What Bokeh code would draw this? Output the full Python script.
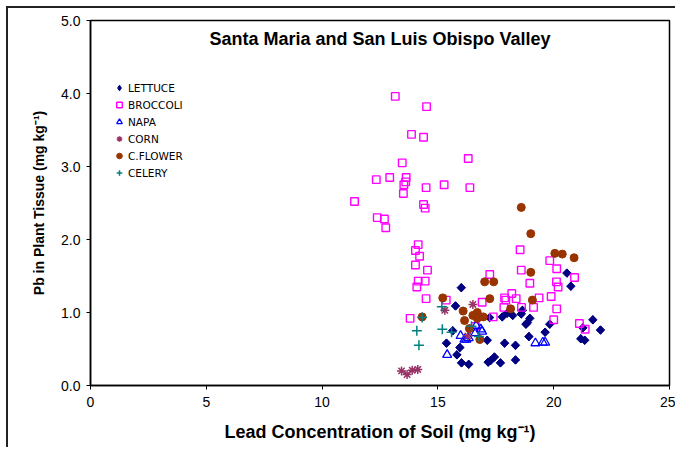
import math
from bokeh.plotting import figure
from bokeh.models import Legend, LegendItem, Label, FixedTicker, PrintfTickFormatter, Range1d
from bokeh.embed import file_html
from bokeh.resources import INLINE

# ---- data ----
lettuce_x = [16.01, 15.76, 15.64, 15.37, 15.95, 15.82, 16.02, 16.33, 17.13, 17.17, 17.27, 17.44, 17.70, 17.88,
             18.35, 18.35, 17.78, 17.99, 18.23, 18.60, 18.65, 17.23, 20.57, 20.74, 18.97, 18.86, 18.80, 19.83,
             19.63, 18.93, 21.69, 22.02, 21.26, 21.17, 21.34]
lettuce_y = [1.34, 1.09, 0.75, 0.58, 0.52, 0.42, 0.31, 0.29, 0.62, 0.32, 0.34, 0.39, 0.31, 0.58,
             0.55, 0.35, 0.94, 0.99, 0.96, 0.98, 1.03, 0.93, 1.54, 1.36, 0.92, 0.86, 0.84, 0.84,
             0.73, 0.67, 0.90, 0.76, 0.79, 0.64, 0.62]

broccoli_x = [13.16, 14.51, 13.86, 14.38, 13.46, 16.31, 12.34, 12.92, 13.63, 13.61, 13.53, 14.49, 15.27, 16.38,
              13.51, 11.40, 14.38, 14.45, 12.38, 12.69, 12.75, 14.15, 14.03, 14.21, 14.03, 14.55, 14.15, 14.45,
              14.09, 14.49, 13.80, 15.36, 17.24, 16.91, 17.39, 16.62, 18.55, 18.60, 18.97, 19.83, 20.13, 20.12,
              20.19, 20.90, 18.19, 17.88, 17.93, 18.38, 17.85, 19.37, 19.89, 18.61, 19.13, 20.13, 20.00, 21.11,
              21.36]
broccoli_y = [3.96, 3.82, 3.44, 3.40, 3.05, 3.11, 2.82, 2.85, 2.85, 2.79, 2.75, 2.71, 2.75, 2.71,
              2.63, 2.52, 2.48, 2.43, 2.30, 2.28, 2.16, 1.93, 1.85, 1.77, 1.65, 1.58, 1.43, 1.43,
              1.35, 1.19, 0.92, 1.17, 1.52, 1.14, 0.94, 0.81, 1.86, 1.58, 1.40, 1.71, 1.60, 1.42,
              1.35, 1.48, 1.26, 1.20, 1.17, 1.19, 1.07, 1.20, 1.22, 1.07, 1.07, 1.05, 0.90, 0.85,
              0.77]

napa_x = [15.40, 15.98, 16.15, 16.23, 16.33, 16.62, 16.85, 16.91, 16.65, 19.21, 19.53, 19.63]
napa_y = [0.42, 0.68, 0.63, 0.63, 0.65, 0.72, 0.77, 0.74, 0.82, 0.58, 0.59, 0.59]

corn_x = [13.43, 13.67, 13.89, 14.13, 15.30, 16.51, 16.29]
corn_y = [0.20, 0.15, 0.21, 0.22, 1.03, 1.11, 0.68]

cflower_x = [15.21, 14.32, 17.02, 17.41, 17.24, 16.09, 16.70, 16.51, 16.15, 16.70, 16.96, 16.36, 16.81,
             18.14, 18.60, 19.01, 20.05, 20.37, 20.88, 19.01, 19.08]
cflower_y = [1.20, 0.94, 1.42, 1.42, 1.19, 1.02, 1.00, 0.96, 0.89, 0.92, 0.94, 0.78, 0.63,
             1.05, 2.44, 2.08, 1.81, 1.80, 1.75, 1.55, 1.17]

celery_x = [15.17, 14.32, 14.09, 15.19, 15.59, 14.18, 16.45, 16.77]
celery_y = [1.08, 0.93, 0.75, 0.77, 0.73, 0.55, 0.81, 0.67]

x_ticks = [0, 5, 10, 15, 20, 25]
y_ticks = [0, 1, 2, 3, 4, 5]

title_text = "Santa Maria and San Luis Obispo Valley"
x_label = "Lead Concentration of Soil (mg kg\u207b\u00b9)"
y_label = "Pb in Plant Tissue (mg kg\u207b\u00b9)"

FONT = "Liberation Sans"

p = figure(width=669, height=441, x_range=Range1d(0, 25), y_range=Range1d(0, 5),
           output_backend="svg", toolbar_location=None,
           min_border_left=82, min_border_right=8, min_border_top=12, min_border_bottom=64)
p.styles = {"margin-left": "6px", "margin-top": "6px",
            "border-left": "2px solid #222", "border-top": "2px solid #222"}

p.xgrid.visible = False
p.ygrid.visible = False
p.outline_line_color = "black"
p.outline_line_width = 1.5
p.background_fill_color = "white"
p.border_fill_color = "white"

for ax in (p.xaxis[0], p.yaxis[0]):
    ax.axis_line_color = "black"
    ax.axis_line_width = 1.5
    ax.major_tick_out = 4
    ax.major_tick_in = 0
    ax.minor_tick_out = 0
    ax.minor_tick_in = 0
    ax.major_label_text_font = FONT
    ax.major_label_text_font_size = "14px"
    ax.major_label_text_color = "black"
    ax.axis_label_text_font = FONT
    ax.axis_label_text_font_style = "bold"
    ax.axis_label_text_color = "black"

p.xaxis[0].axis_label_text_font_size = "18px"
p.yaxis[0].axis_label_text_font_size = "14px"
p.xaxis[0].ticker = FixedTicker(ticks=x_ticks)
p.yaxis[0].ticker = FixedTicker(ticks=y_ticks)
p.yaxis[0].formatter = PrintfTickFormatter(format="%.1f")
p.xaxis[0].major_label_standoff = 7
p.yaxis[0].major_label_standoff = 6
p.xaxis[0].axis_label = x_label
p.yaxis[0].axis_label = y_label
p.xaxis[0].axis_label_standoff = 12
p.yaxis[0].axis_label_standoff = 11

# diamond key glyph for the legend (drawn beneath, hidden by the larger rotated squares)
r_let_key = p.scatter(lettuce_x, lettuce_y, marker="diamond", size=8,
                      fill_color="#000080", line_color="#000080")
r_let = p.scatter(lettuce_x, lettuce_y, marker="square", angle=math.pi / 4, size=6,
                  fill_color="#000080", line_color="#000080")
r_bro = p.scatter(broccoli_x, broccoli_y, marker="square", size=7.5, fill_color=None,
                  line_color="#FF00FF", line_width=1.4)
r_nap = p.scatter(napa_x, napa_y, marker="triangle", size=9, fill_color=None,
                  line_color="#0000FF", line_width=1.3)
r_cor = p.scatter(corn_x, corn_y, marker="asterisk", size=9, line_color="#993366", line_width=1.5)
r_cfl = p.scatter(cflower_x, cflower_y, marker="circle", size=8, fill_color="#993300",
                  line_color="#993300")
r_cel = p.scatter(celery_x, celery_y, marker="cross", size=10, line_color="#008080", line_width=1.5)

legend = Legend(items=[
    LegendItem(label="LETTUCE", renderers=[r_let_key]),
    LegendItem(label="BROCCOLI", renderers=[r_bro]),
    LegendItem(label="NAPA", renderers=[r_nap]),
    LegendItem(label="CORN", renderers=[r_cor]),
    LegendItem(label="C.FLOWER", renderers=[r_cfl]),
    LegendItem(label="CELERY", renderers=[r_cel]),
], location=(22, 205), glyph_width=14, glyph_height=15, label_height=15, spacing=2,
    padding=0, margin=0, border_line_color=None, background_fill_alpha=0,
    label_text_font="DejaVu Sans", label_text_font_size="10.5px", label_text_color="black",
    label_standoff=2)
p.add_layout(legend)

p.add_layout(Label(x=12.5, y=4.75, text=title_text, text_align="center", text_baseline="middle",
                   text_font=FONT, text_font_size="18px", text_font_style="bold", text_color="black"))

open("out.html", "w").write(file_html(p, INLINE))
